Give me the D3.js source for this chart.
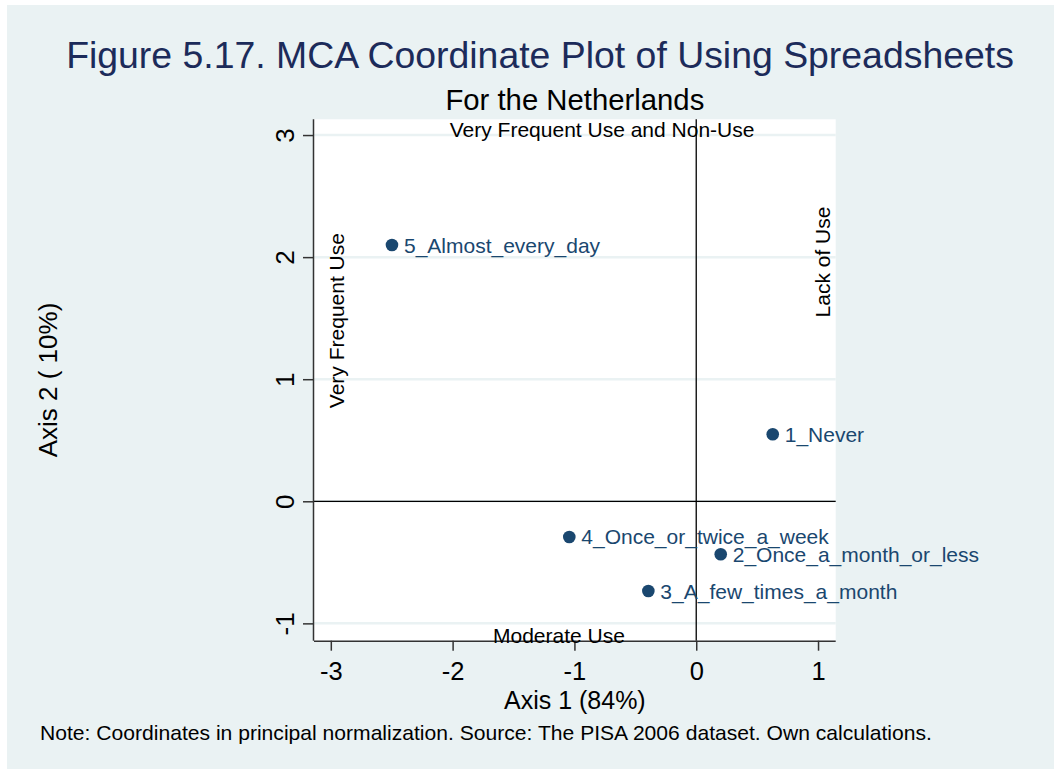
<!DOCTYPE html>
<html>
<head>
<meta charset="utf-8">
<script src="https://cdn.jsdelivr.net/npm/d3@7"></script>
<style>
  html, body { margin: 0; padding: 0; background: #ffffff; }
  svg { display: block; }
  text { font-family: "Liberation Sans", Arial, sans-serif; }
</style>
</head>
<body>
<svg id="chart" width="1054" height="769"></svg>
<script>
// ---- Data ----
const categories = ["1_Never", "2_Once_a_month_or_less", "3_A_few_times_a_month", "4_Once_or_twice_a_week", "5_Almost_every_day"];
const axis1Values = [0.628, 0.201, -0.393, -1.042, -2.498];
const axis2Values = [0.549, -0.434, -0.735, -0.292, 2.099];
const xTickValues = [-3, -2, -1, 0, 1];
const yTickValues = [-1, 0, 1, 2, 3];
const annotationTexts = ["Very Frequent Use and Non-Use", "Moderate Use", "Very Frequent Use", "Lack of Use"];
const annotationX = [-0.773, -1.127, -2.95, 1.04];
const annotationY = [3.05, -1.098, 1.48, 1.96];
const annotationRotate = [0, 0, -90, -90];

const titleText = "Figure 5.17. MCA Coordinate Plot of Using Spreadsheets";
const subtitleText = "For the Netherlands";
const xTitle = "Axis 1 (84%)";
const yTitle = "Axis 2 ( 10%)";
const noteText = "Note: Coordinates in principal normalization. Source: The PISA 2006 dataset. Own calculations.";

// ---- Layout ----
const W = 1054, H = 769;
const plot = { left: 314, right: 835.7, top: 119.3, bottom: 640.7 };
const navy = "#1a476f";
const bgCol = "#eaf2f3";
const fmt = d => String(d);

const svg = d3.select("#chart");

svg.append("rect").attr("x", 7).attr("y", 5).attr("width", W - 7).attr("height", H - 5).attr("fill", bgCol);

const x = d3.scaleLinear().domain([-3.138, 1.145]).range([plot.left, plot.right]);
const y = d3.scaleLinear().domain([-1.142, 3.129]).range([plot.bottom, plot.top]);

// plot region
svg.append("rect")
  .attr("x", plot.left).attr("y", plot.top)
  .attr("width", plot.right - plot.left).attr("height", plot.bottom - plot.top)
  .attr("fill", "#ffffff");

// gridlines
svg.append("g").selectAll("line").data(yTickValues).join("line")
  .attr("x1", plot.left).attr("x2", plot.right)
  .attr("y1", d => y(d)).attr("y2", d => y(d))
  .attr("stroke", bgCol).attr("stroke-width", 2.5);

// zero reference lines
svg.append("line").attr("x1", plot.left).attr("x2", plot.right)
  .attr("y1", y(0)).attr("y2", y(0)).attr("stroke", "#000").attr("stroke-width", 1.3);
svg.append("line").attr("x1", x(0)).attr("x2", x(0))
  .attr("y1", plot.top).attr("y2", plot.bottom).attr("stroke", "#000").attr("stroke-width", 1.3);

// axes
const xAxis = d3.axisBottom(x).tickValues(xTickValues).tickSize(10).tickPadding(4).tickFormat(fmt);
const gx = svg.append("g").attr("transform", `translate(0,${plot.bottom})`).call(xAxis);
gx.select(".domain").attr("d", `M${plot.left},0.5H${plot.right}`).attr("stroke", "#333").attr("stroke-width", 1.5);
gx.selectAll(".tick line").attr("stroke", "#333").attr("stroke-width", 1.5);
gx.selectAll(".tick text").attr("font-size", 25.5).attr("fill", "#000")
  .attr("font-family", "Liberation Sans, Arial, sans-serif")
  .attr("y", 39.5).attr("dy", 0);

const yAxis = d3.axisLeft(y).tickValues(yTickValues).tickSize(11).tickPadding(0).tickFormat(fmt);
const gy = svg.append("g").attr("transform", `translate(${plot.left},0)`).call(yAxis);
gy.select(".domain").attr("d", `M-0.5,${plot.top}V${plot.bottom}`).attr("stroke", "#333").attr("stroke-width", 1.5);
gy.selectAll(".tick line").attr("stroke", "#333").attr("stroke-width", 1.5);
gy.selectAll(".tick text").attr("font-size", 26).attr("fill", "#000")
  .attr("font-family", "Liberation Sans, Arial, sans-serif")
  .attr("x", null).attr("dy", 0)
  .attr("text-anchor", "middle")
  .attr("transform", "translate(-20,0) rotate(-90)");

// markers
const pts = categories.map((c, i) => ({ c, x: axis1Values[i], y: axis2Values[i] }));
svg.append("g").selectAll("circle").data(pts).join("circle")
  .attr("cx", d => x(d.x)).attr("cy", d => y(d.y)).attr("r", 6.3).attr("fill", navy);
svg.append("g").selectAll("text").data(pts).join("text")
  .attr("x", d => x(d.x) + 12).attr("y", d => y(d.y) + 7.5)
  .attr("font-size", 21).attr("fill", navy)
  .text(d => d.c);

// annotations
annotationTexts.forEach((t, i) => {
  const ax = x(annotationX[i]), ay = y(annotationY[i]);
  svg.append("text")
    .attr("transform", `translate(${ax},${ay}) rotate(${annotationRotate[i]})`)
    .attr("text-anchor", "middle").attr("dy", "0.36em")
    .attr("font-size", 21).attr("fill", "#000")
    .text(t);
});

// titles
svg.append("text").attr("x", 540).attr("y", 68).attr("text-anchor", "middle")
  .attr("font-size", 37.4).attr("fill", "#1c2b5a").text(titleText);
svg.append("text").attr("x", (plot.left + plot.right) / 2).attr("y", 110).attr("text-anchor", "middle")
  .attr("font-size", 29.3).attr("fill", "#000").text(subtitleText);
svg.append("text").attr("x", (plot.left + plot.right) / 2).attr("y", 708.5).attr("text-anchor", "middle")
  .attr("font-size", 25).attr("fill", "#000").text(xTitle);
svg.append("text").attr("transform", `translate(57,${(plot.top + plot.bottom) / 2}) rotate(-90)`)
  .attr("text-anchor", "middle").attr("font-size", 26).attr("fill", "#000").text(yTitle);
svg.append("text").attr("x", 40).attr("y", 740)
  .attr("font-size", 21.1).attr("fill", "#000").text(noteText);
</script>
</body>
</html>
